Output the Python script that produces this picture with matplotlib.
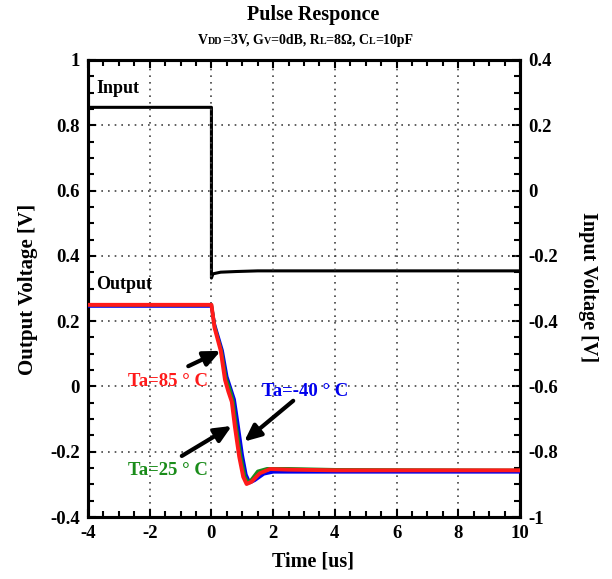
import numpy as np
import matplotlib
matplotlib.use("Agg")
import matplotlib.pyplot as plt
from matplotlib.ticker import MultipleLocator

plt.rcParams['font.family'] = ['Liberation Serif', 'DejaVu Serif']
plt.rcParams['font.weight'] = 'bold'
plt.rcParams['axes.labelweight'] = 'bold'
plt.rcParams['axes.unicode_minus'] = False

# input pulse (right axis, V)
t_in = [-4, 0.0, 0.0, 0.05, 0.3, 0.8, 1.5, 10]
v_in = [0.255, 0.255, -0.268, -0.255, -0.250, -0.248, -0.246, -0.246]

# output responses (left axis, V)
t_red = [-4, 0.0, 0.1, 0.3, 0.44, 0.55, 0.66, 0.76, 0.9, 1.03, 1.14, 1.3, 1.57, 1.9, 2.5, 4, 10]
v_red = [0.25, 0.25, 0.18, 0.11, 0.02, -0.016, -0.047, -0.123, -0.215, -0.277, -0.299, -0.292,
         -0.266, -0.253, -0.255, -0.257, -0.257]

t_blue = [-4, 0.0, 0.1, 0.35, 0.5, 0.62, 0.74, 0.85, 1.0, 1.12, 1.24, 1.4, 1.7, 2.0, 3, 10]
v_blue = [0.246, 0.246, 0.19, 0.11, 0.03, -0.005, -0.04, -0.11, -0.21, -0.27, -0.295, -0.288,
          -0.268, -0.262, -0.262, -0.262]

t_green = [-4, 0.0, 0.1, 0.32, 0.47, 0.6, 0.7, 0.8, 0.95, 1.08, 1.18, 1.3, 1.5, 1.8, 2.5, 4, 10]
v_green = [0.25, 0.25, 0.185, 0.11, 0.025, -0.01, -0.045, -0.12, -0.215, -0.275, -0.295, -0.285,
           -0.26, -0.252, -0.252, -0.255, -0.257]

left_ticks = ["-0.4", "-0.2", "0", "0.2", "0.4", "0.6", "0.8", "1"]
right_ticks = ["-1", "-0.8", "-0.6", "-0.4", "-0.2", "0", "0.2", "0.4"]

# subtitle pieces: (text, small-caps?)
subtitle = [("V", False), ("DD", True), ("=3V, G", False), ("V", True), ("=0dB, R", False),
            ("L", True), ("=8\u03a9, C", False), ("L", True), ("=10pF", False)]

fig = plt.figure(figsize=(6.12, 5.79), dpi=100)
ax = fig.add_axes([88 / 612, 1 - 517 / 579, 432 / 612, 457 / 579])
ax2 = ax.twinx()

ax.plot(t_blue, v_blue, color="#0000ee", lw=2.4, zorder=3)
ax.plot(t_green, v_green, color="#1a8c1a", lw=2.4, zorder=4)
ax.plot(t_red, v_red, color="#ff1a1a", lw=2.8, zorder=5)
ax2.plot(t_in, v_in, color="black", lw=2.2)

ax.set_xlim(-4, 10)
ax.set_ylim(-0.4, 1)
ax2.set_ylim(-1, 0.4)
ax.xaxis.set_major_locator(MultipleLocator(2))
ax.xaxis.set_minor_locator(MultipleLocator(0.5))
for a in (ax, ax2):
    a.yaxis.set_major_locator(MultipleLocator(0.2))
    a.yaxis.set_minor_locator(MultipleLocator(0.05))
    a.tick_params(which="both", direction="in", labelsize=13.5, width=1.5, pad=6)
    a.tick_params(which="major", length=6)
    a.tick_params(which="minor", length=4)
    for s in a.spines.values():
        s.set_linewidth(2.2)
ax.tick_params(which="both", top=True)
ax.set_yticks(np.linspace(-0.4, 1, 8))
ax.set_yticklabels(left_ticks)
ax2.set_yticks(np.linspace(-1, 0.4, 8))
ax2.set_yticklabels(right_ticks)
ax.grid(True, which="major", ls=(0, (1, 3)), color="#444444", lw=1.2)
ax.set_zorder(ax2.get_zorder() + 1)
ax.patch.set_visible(False)

ax.set_xlabel("Time [us]", fontsize=14.5, va="center")
ax.set_ylabel("Output Voltage [V]", fontsize=15, va="center")
ax2.set_ylabel("Input Voltage [V]", fontsize=14.5, rotation=270, va="center")
ax.xaxis.set_label_coords(0.52, -0.098)
ax.yaxis.set_label_coords(-0.14, 0.497)
ax2.yaxis.set_label_coords(1.158, 0.503)

ax.text(-3.74, 0.914, "Input", fontsize=13, ha="left", va="center")
ax.text(-3.74, 0.311, "Output", fontsize=13, ha="left", va="center")
ax.text(-2.7, 0.014, "Ta=85 ° C", fontsize=13.5, color="#ff1a1a", ha="left", va="center")
ax.text(1.64, -0.017, "Ta=-40 ° C", fontsize=13.5, color="#0000ee", ha="left", va="center")
ax.text(-2.7, -0.259, "Ta=25 ° C", fontsize=13.5, color="#1a8c1a", ha="left", va="center")

arrow = dict(arrowstyle="-|>,head_width=0.45,head_length=1.0", lw=3, color="black",
             shrinkA=0, shrinkB=0)
ax.annotate("", xy=(0.30, 0.109), xytext=(-0.75, 0.062), arrowprops=arrow, zorder=6)
ax.annotate("", xy=(0.66, -0.121), xytext=(-0.96, -0.213), arrowprops=arrow, zorder=6)
ax.annotate("", xy=(1.06, -0.169), xytext=(2.65, -0.044), arrowprops=arrow, zorder=6)

fig.text(313 / 612, 1 - 15 / 579, "Pulse Responce", fontsize=14.5, ha="center", va="center")

# subtitle with small-caps pieces, laid out piece by piece on a common baseline
renderer = fig.canvas.get_renderer()
pieces = []
for s, sc in subtitle:
    t = fig.text(0, 1 - 44 / 579, s, fontsize=7.2 if sc else 10, fontweight="bold",
                 ha="left", va="baseline")
    pieces.append(t)
widths = [p.get_window_extent(renderer).width for p in pieces]
x = 306 - sum(widths) / 2
for p, w in zip(pieces, widths):
    p.set_x(x / 612)
    x += w

fig.savefig("out.png", dpi=100)
